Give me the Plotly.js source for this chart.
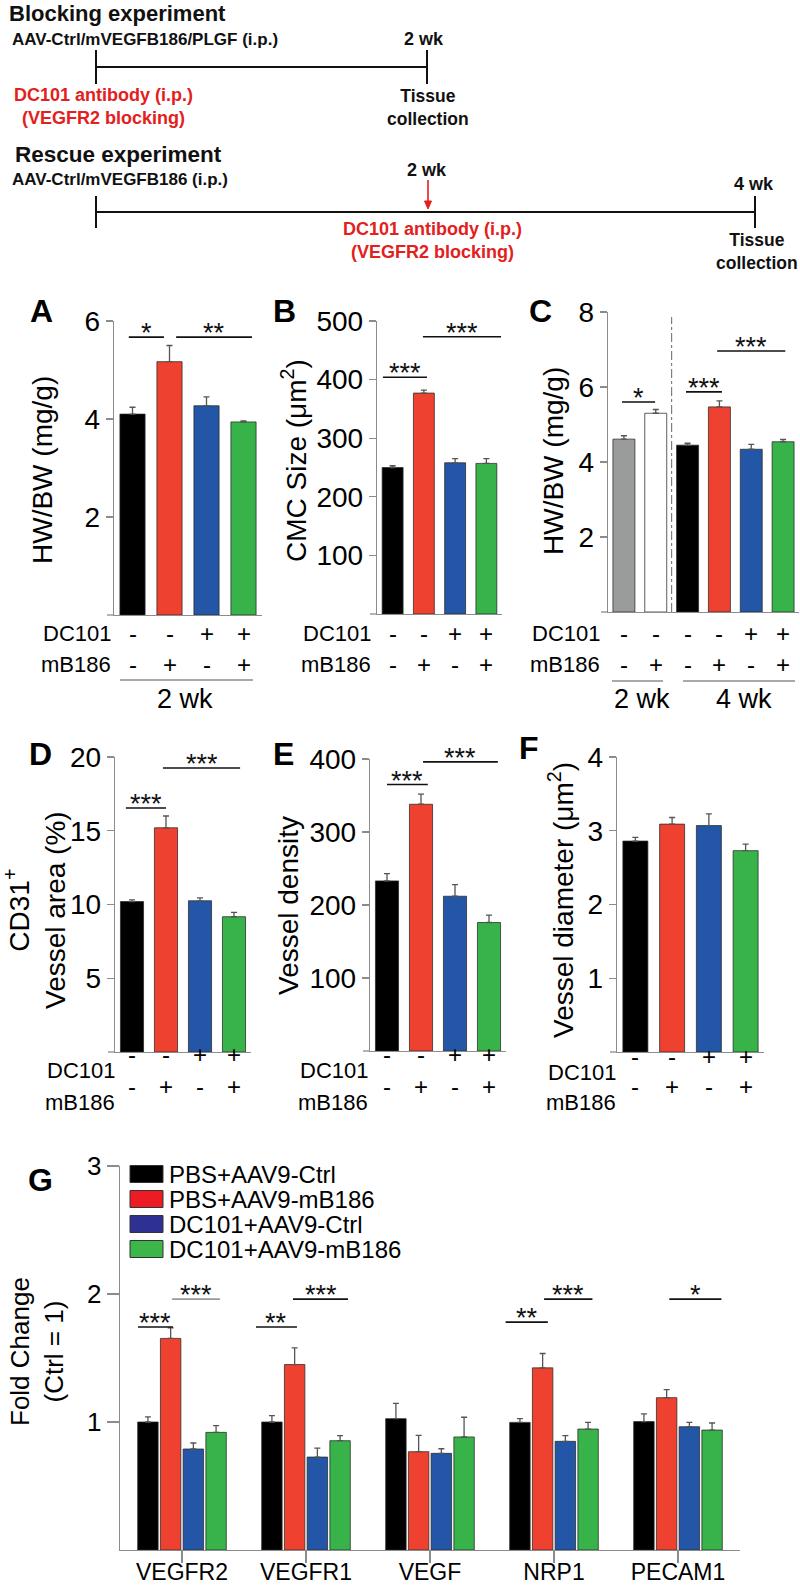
<!DOCTYPE html>
<html>
<head>
<meta charset="utf-8">
<script src="https://cdn.plot.ly/plotly-3.0.1.min.js"></script>
<style>body{margin:0;background:#fff}</style>
</head>
<body>
<div id="fig" style="width:800px;height:1587px"></div>
<script>
var W = 800, H = 1587;
function px(x) { return x / W; }
function py(y) { return 1 - y / H; }

// ---- data ----
var dc101 = ['-', '-', '+', '+'];
var mb186 = ['-', '+', '-', '+'];
var dc101C = ['-', '-', '-', '-', '+', '+'];
var mb186C = ['-', '+', '-', '+', '-', '+'];

var hwbw2wk = [4.10, 5.17, 4.27, 3.94];
var hwbw2wkErr = [0.14, 0.33, 0.18, 0.02];
var cmcSize = [250, 377, 258, 257];
var cmcSizeErr = [3, 5, 7, 8];
var hwbwRescue = [4.61, 5.30, 4.45, 5.47, 4.34, 4.54];
var hwbwRescueErr = [0.09, 0.10, 0.05, 0.16, 0.13, 0.06];
var vesselArea = [10.2, 15.2, 10.25, 9.17];
var vesselAreaErr = [0.12, 0.8, 0.2, 0.3];
var vesselDensity = [233, 338, 212, 176];
var vesselDensityErr = [10, 14, 16, 10];
var vesselDiam = [2.86, 3.09, 3.07, 2.73];
var vesselDiamErr = [0.05, 0.09, 0.16, 0.09];

var genes = ['VEGFR2', 'VEGFR1', 'VEGF', 'NRP1', 'PECAM1'];
var groupNames = ['PBS+AAV9-Ctrl', 'PBS+AAV9-mB186', 'DC101+AAV9-Ctrl', 'DC101+AAV9-mB186'];
var foldCtrl = [1.0, 1.0, 1.026, 0.997, 1.003];
var foldCtrlErr = [0.04, 0.05, 0.12, 0.03, 0.06];
var foldMB = [1.653, 1.449, 0.768, 1.423, 1.19];
var foldMBErr = [0.083, 0.13, 0.128, 0.112, 0.063];
var foldDcCtrl = [0.789, 0.726, 0.755, 0.849, 0.963];
var foldDcCtrlErr = [0.047, 0.07, 0.036, 0.044, 0.034];
var foldDcMB = [0.919, 0.854, 0.883, 0.945, 0.937];
var foldDcMBErr = [0.052, 0.039, 0.154, 0.052, 0.055];

var barColors = ['#000000', '#ef4130', '#2356a6', '#37b34a'];
var barColorsC = ['#9a9c9c', '#ffffff', '#000000', '#ef4130', '#2356a6', '#37b34a'];
var legendColors = ['#000000', '#ed1c24', '#2e3192', '#3cb54a'];

var FONT = 'Liberation Sans, Arial, sans-serif';
var GREY = '#8c8c8c';
var RED = '#e3201b';

var data = [];
var shapes = [];
var annotations = [];

function note(x, y, text, size, opts) {
    var a = {
        xref: 'paper', yref: 'paper', x: px(x), y: py(y), text: text,
        showarrow: false, xanchor: 'center', yanchor: 'middle',
        font: {family: FONT, size: size, color: '#111'}
    };
    for (var k in opts) {
        if (k === 'color' || k === 'weight') a.font[k] = opts[k];
        else a[k] = opts[k];
    }
    annotations.push(a);
}

function line(x0, y0, x1, y1, color, width, dash) {
    shapes.push({type: 'line', xref: 'paper', yref: 'paper',
        x0: px(x0), y0: py(y0), x1: px(x1), y1: py(y1),
        line: {color: color, width: width, dash: dash || 'solid'}});
}

function zeros(arr) { return arr.map(function () { return 0; }); }

// ---- timelines ----
note(8, 0, 'Blocking experiment', 22, {xanchor: 'left', yanchor: 'top', borderpad: 0, weight: 'bold'});
note(10, 40, 'AAV-Ctrl/mVEGFB186/PLGF (i.p.)', 17, {xanchor: 'left', weight: 'bold'});
note(424, 39, '2 wk', 18, {weight: 'bold'});
line(96, 67, 427, 67, '#111', 2);
line(96, 50, 96, 84, '#111', 2);
line(427, 50, 427, 84, '#111', 2);
note(103, 106, 'DC101 antibody (i.p.)<br>(VEGFR2 blocking)', 18, {color: RED, weight: 'bold'});
note(428, 107, 'Tissue<br>collection', 17.5, {weight: 'bold'});

note(13, 155, 'Rescue experiment', 22.5, {xanchor: 'left', weight: 'bold'});
note(427, 170, '2 wk', 18, {weight: 'bold'});
note(10, 179, 'AAV-Ctrl/mVEGFB186 (i.p.)', 17, {xanchor: 'left', weight: 'bold'});
note(754, 184, '4 wk', 18, {weight: 'bold'});
line(96, 212, 755, 212, '#111', 2);
line(96, 196, 96, 228, '#111', 2);
line(755, 196, 755, 228, '#111', 2);
// red arrow at 2 wk
line(428, 180, 428, 203, RED, 1.6);
shapes.push({type: 'path', xref: 'paper', yref: 'paper', fillcolor: RED, line: {color: RED, width: 1},
    path: 'M' + px(424.5) + ',' + py(201) + ' L' + px(431.5) + ',' + py(201) + ' L' + px(428) + ',' + py(209) + ' Z'});
note(432, 240, 'DC101 antibody (i.p.)<br>(VEGFR2 blocking)', 18, {color: RED, weight: 'bold'});
note(757, 252, 'Tissue<br>collection', 17.5, {weight: 'bold'});

// ---- bar panels A-F ----
var panels = [
    {label: 'A', lx: 41, ly: 311, x0: 114, x1: 262, yb: 615, yt: 321, range: [0, 6], ticks: [2, 4, 6],
     y: hwbw2wk, err: hwbw2wkErr, colors: barColors, w: 0.68,
     title: 'HW/BW (mg/g)', tx: 43, ty: 470, rowX: 113, rowY: [633, 665], dc: dc101, mb: mb186,
     sig: [['*', -0.1, 0.85, 5.67], ['**', 1.18, 3.23, 5.67]]},
    {label: 'B', lx: 284, ly: 311, x0: 377, x1: 502, yb: 614, yt: 321, range: [0, 500], ticks: [100, 200, 300, 400, 500],
     y: cmcSize, err: cmcSizeErr, colors: barColors, w: 0.67,
     title: 'CMC Size (μm<sup>2</sup>)', tx: 294, ty: 461, rowX: 373, rowY: [633, 665], dc: dc101, mb: mb186,
     sig: [['***', -0.31, 1.1, 404], ['***', 0.97, 3.47, 473]]},
    {label: 'C', lx: 540, ly: 311, x0: 608, x1: 799, yb: 612, yt: 312, range: [0, 8], ticks: [2, 4, 6, 8],
     y: hwbwRescue, err: hwbwRescueErr, colors: barColorsC, w: 0.69,
     title: 'HW/BW (mg/g)', tx: 553, ty: 461, rowX: 602, rowY: [633, 664], dc: dc101C, mb: mb186C,
     sig: [['*', -0.06, 0.98, 5.6], ['***', 1.95, 3.08, 5.87], ['***', 2.93, 5.07, 6.96]]},
    {label: 'D', lx: 40, ly: 754, x0: 115, x1: 251, yb: 1052, yt: 757, range: [0, 20], ticks: [5, 10, 15, 20],
     y: vesselArea, err: vesselAreaErr, colors: barColors, w: 0.68,
     title: 'CD31<sup>+</sup><br>Vessel area (%)', tx: 35, ty: 910, rowX: 117, rowY: [1070, 1102], dc: dc101, mb: mb186,
     sig: [['***', -0.18, 1.0, 16.54], ['***', 0.91, 3.18, 19.25]]},
    {label: 'E', lx: 283, ly: 754, x0: 370, x1: 506, yb: 1051, yt: 759, range: [0, 400], ticks: [100, 200, 300, 400],
     y: vesselDensity, err: vesselDensityErr, colors: barColors, w: 0.68,
     title: 'Vessel density', tx: 288, ty: 906, rowX: 370, rowY: [1070, 1102], dc: dc101, mb: mb186,
     sig: [['***', 0.0, 1.2, 365], ['***', 1.06, 3.26, 396]]},
    {label: 'F', lx: 529, ly: 748, x0: 617, x1: 764, yb: 1052, yt: 757, range: [0, 4], ticks: [1, 2, 3, 4],
     y: vesselDiam, err: vesselDiamErr, colors: barColors, w: 0.68,
     title: 'Vessel diameter (μm<sup>2</sup>)', tx: 561, ty: 900, rowX: 618, rowY: [1072, 1102], dc: dc101, mb: mb186,
     sig: []}
];

var layout = {
    width: W, height: H,
    margin: {l: 0, r: 0, t: 0, b: 0},
    paper_bgcolor: '#ffffff',
    plot_bgcolor: 'rgba(0,0,0,0)',
    showlegend: false,
    barmode: 'group',
    bargap: 0.267,
    bargroupgap: 0.1,
    font: {family: FONT, color: '#000'}
};

function addSig(xref, yref, x0, x1, y, label, color) {
    shapes.push({type: 'line', xref: xref, yref: yref, x0: x0, x1: x1, y0: y, y1: y,
        line: {color: color || '#111', width: 1.6}});
    annotations.push({xref: xref, yref: yref, x: (x0 + x1) / 2, y: y, text: label,
        showarrow: false, yanchor: 'bottom', yshift: -13,
        font: {family: FONT, size: 27, color: '#111'}});
}

panels.forEach(function (p, i) {
    var n = i + 1;
    var xk = n === 1 ? 'xaxis' : 'xaxis' + n;
    var yk = n === 1 ? 'yaxis' : 'yaxis' + n;
    var xr = n === 1 ? 'x' : 'x' + n;
    var yr = n === 1 ? 'y' : 'y' + n;
    var xs = p.y.map(function (v, j) { return j; });

    data.push({
        type: 'bar', x: xs, y: p.y, xaxis: xr, yaxis: yr, width: p.w,
        marker: {color: p.colors, line: {color: 'rgba(40,40,40,0.75)', width: 1}},
        error_y: {type: 'data', symmetric: false, array: p.err, arrayminus: zeros(p.err),
            color: '#555', thickness: 1.3, width: 3},
        hoverinfo: 'y'
    });

    layout[xk] = {domain: [px(p.x0), px(p.x1)], range: [-0.5, p.y.length - 0.5], anchor: yr,
        showgrid: false, zeroline: false, showline: true, linecolor: GREY, linewidth: 1.3,
        ticks: '', showticklabels: false, fixedrange: true};
    layout[yk] = {domain: [py(p.yb), py(p.yt)], range: p.range, anchor: xr, tickvals: p.ticks,
        ticks: 'outside', ticklen: 7, tickcolor: GREY, tickwidth: 1.3,
        showline: true, linecolor: GREY, linewidth: 1.3, showgrid: false, zeroline: false,
        tickfont: {family: FONT, size: 28, color: '#000'}, fixedrange: true};
    // baseline runs a little past the y axis, like the tick at zero
    line(p.x0 - 7, p.yb, p.x0, p.yb, GREY, 1.3);

    note(p.lx, p.ly, p.label, 32, {weight: 'bold', color: '#000'});
    note(p.tx, p.ty, p.title, 28, {textangle: -90, color: '#000'});
    note(p.rowX, p.rowY[0], 'DC101', 22, {xanchor: 'right', color: '#000'});
    note(p.rowX, p.rowY[1], 'mB186', 22, {xanchor: 'right', color: '#000'});
    xs.forEach(function (j) {
        annotations.push({xref: xr, yref: 'paper', x: j, y: py(p.rowY[0]), text: p.dc[j], showarrow: false,
            font: {family: FONT, size: 24, color: '#000'}});
        annotations.push({xref: xr, yref: 'paper', x: j, y: py(p.rowY[1]), text: p.mb[j], showarrow: false,
            font: {family: FONT, size: 24, color: '#000'}});
    });
    p.sig.forEach(function (s) { addSig(xr, yr, s[1], s[2], s[3], s[0]); });
});

// time labels under A and C
line(120, 680, 253, 680, GREY, 1.5);
note(185, 699, '2 wk', 27, {color: '#000'});
line(612, 681, 663, 681, GREY, 1.5);
note(642, 699, '2 wk', 27, {color: '#000'});
line(683, 681, 795, 681, GREY, 1.5);
note(744, 699, '4 wk', 27, {color: '#000'});
// dash-dot separator in C
shapes.push({type: 'line', xref: 'x3', yref: 'paper', x0: 1.5, x1: 1.5, y0: py(612), y1: py(317),
    line: {color: '#666', width: 1, dash: 'dashdot'}});

// ---- panel G ----
var series = [
    [foldCtrl, foldCtrlErr],
    [foldMB, foldMBErr],
    [foldDcCtrl, foldDcCtrlErr],
    [foldDcMB, foldDcMBErr]
];
series.forEach(function (s, k) {
    data.push({
        type: 'bar', name: groupNames[k], x: genes, y: s[0], xaxis: 'x7', yaxis: 'y7',
        marker: {color: barColors[k], line: {color: 'rgba(40,40,40,0.75)', width: 1}},
        error_y: {type: 'data', symmetric: false, array: s[1], arrayminus: zeros(s[1]),
            color: '#555', thickness: 1.3, width: 3}
    });
});
layout.xaxis7 = {domain: [px(120), px(740)], anchor: 'y7', type: 'category', categoryarray: genes,
    range: [-0.5, 4.5], showgrid: false, zeroline: false, showline: true, linecolor: GREY, linewidth: 1.3,
    ticks: 'outside', ticklen: 12, tickcolor: GREY, tickwidth: 1.3, ticklabelstandoff: -11,
    tickfont: {family: FONT, size: 23, color: '#000'}, fixedrange: true};
layout.yaxis7 = {domain: [py(1550), py(1166)], anchor: 'x7', range: [0, 3], tickvals: [1, 2, 3],
    ticks: 'outside', ticklen: 12, tickcolor: GREY, tickwidth: 1.3,
    showline: true, linecolor: GREY, linewidth: 1.3, showgrid: false, zeroline: false,
    tickfont: {family: FONT, size: 26, color: '#000'}, fixedrange: true};

note(40, 1180, 'G', 32, {weight: 'bold', color: '#000'});
note(37, 1352, 'Fold Change<br>(Ctrl = 1)', 26, {textangle: -90, color: '#000'});

groupNames.forEach(function (name, k) {
    var yc = 1174 + 25 * k;
    shapes.push({type: 'rect', xref: 'paper', yref: 'paper',
        x0: px(130), x1: px(163), y0: py(yc + 8.5), y1: py(yc - 8.5),
        fillcolor: legendColors[k], line: {color: '#333', width: 1}});
    note(167, yc, name, 24, {xanchor: 'left', color: '#000'});
});

addSig('x7', 'y7', -0.355, -0.073, 1.742, '***');
addSig('x7', 'y7', -0.08, 0.306, 1.96, '***', '#999');
addSig('x7', 'y7', 0.597, 0.927, 1.742, '**');
addSig('x7', 'y7', 0.895, 1.339, 1.96, '***');
addSig('x7', 'y7', 2.61, 2.95, 1.78, '**');
addSig('x7', 'y7', 2.92, 3.31, 1.96, '***');
addSig('x7', 'y7', 3.93, 4.35, 1.96, '*');

layout.shapes = shapes;
layout.annotations = annotations;

Plotly.newPlot('fig', data, layout, {staticPlot: true});
</script>
</body>
</html>
